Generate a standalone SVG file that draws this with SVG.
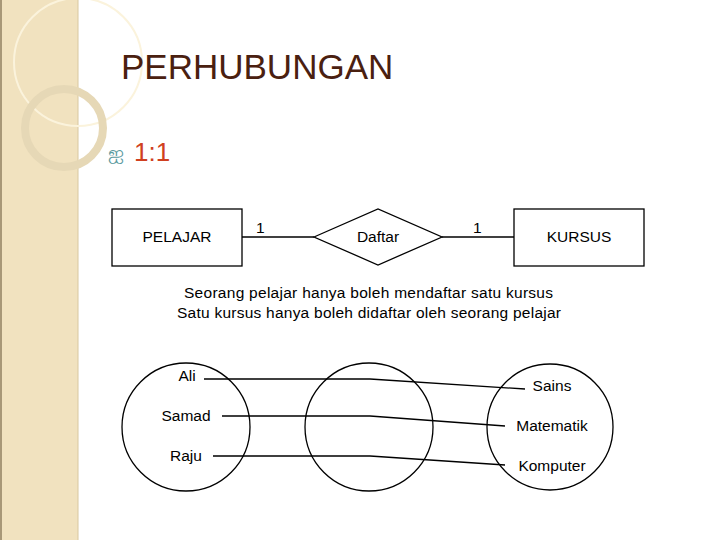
<svg xmlns="http://www.w3.org/2000/svg" width="720" height="540" viewBox="0 0 720 540">
<style>
text{font-family:"Liberation Sans",Arial,sans-serif;fill:#000}
.s{fill:none;stroke:#000;stroke-width:1.3}
.b{fill:#fff;stroke:#000;stroke-width:1.3}
.l{font-size:15.5px}
</style>
<rect width="720" height="540" fill="#fff"/>
<g id="sidebar">
<rect x="0" y="0" width="78" height="540" fill="#f1e2bf"/>
<rect x="0" y="0" width="2" height="540" fill="#a89878"/>
<line x1="78" y1="0" x2="78" y2="540" stroke="#d8c8a0" stroke-width="1"/>
<circle cx="78" cy="62" r="64" fill="none" stroke="#fbf3dc" stroke-width="2"/>
<circle cx="64" cy="128" r="39" fill="none" stroke="#e6d8b6" stroke-width="8"/>
</g>
<text x="121" y="79" font-size="35" style="fill:#4a2010">PERHUBUNGAN</text>
<text x="108" y="160" font-size="20" style="fill:#5a9aa0">ஐ</text>
<text x="134" y="161" font-size="26" style="fill:#d04020">1:1</text>
<g id="pelajar"><rect class="b" x="112" y="209" width="130" height="57"/><text class="l" x="177" y="242" text-anchor="middle">PELAJAR</text></g>
<g id="daftar"><polygon class="b" points="314,237 378,209 442,237 378,265"/><text class="l" x="378" y="242" text-anchor="middle">Daftar</text></g>
<g id="kursus"><rect class="b" x="514" y="209" width="130" height="57"/><text class="l" x="579" y="242" text-anchor="middle">KURSUS</text></g>
<g id="connectors">
<line class="s" x1="242" y1="237" x2="314" y2="237"/>
<line class="s" x1="442" y1="237" x2="514" y2="237"/>
<path class="s" d="M204,379 L370,379 L525,389"/>
<path class="s" d="M222,416 L370,416 L505,426"/>
<path class="s" d="M213,456 L370,456 L505,465"/>
</g>
<text class="l" x="256" y="233">1</text>
<text class="l" x="473" y="233">1</text>
<text class="l" x="184" y="298" textLength="369">Seorang pelajar hanya boleh mendaftar satu  kursus</text>
<text class="l" x="177" y="318" textLength="384">Satu kursus hanya boleh didaftar oleh seorang  pelajar</text>
<g id="set1"><circle class="s" cx="186" cy="427" r="64"/>
<text class="l" x="187" y="381" text-anchor="middle">Ali</text>
<text class="l" x="186" y="421" text-anchor="middle">Samad</text>
<text class="l" x="186" y="461" text-anchor="middle">Raju</text></g>
<g id="set2"><circle class="s" cx="369" cy="427" r="64"/></g>
<g id="set3"><circle class="s" cx="550" cy="427" r="63"/>
<text class="l" x="552" y="391" text-anchor="middle">Sains</text>
<text class="l" x="552" y="431" text-anchor="middle">Matematik</text>
<text class="l" x="552" y="471" text-anchor="middle">Komputer</text></g>
</svg>
